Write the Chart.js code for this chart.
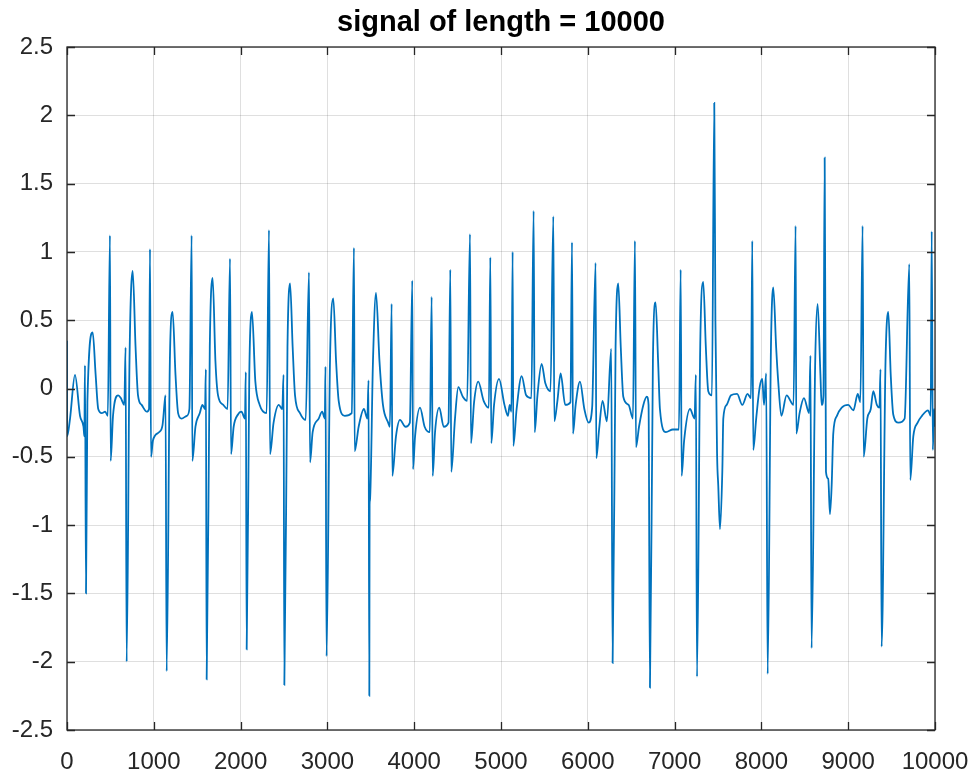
<!DOCTYPE html>
<html>
<head>
<meta charset="utf-8">
<script src="https://cdn.jsdelivr.net/npm/chart.js@4.4.0/dist/chart.umd.min.js"></script>
<style>
  html, body { margin: 0; padding: 0; background: #fff; }
  #wrap { width: 974px; height: 774px; position: relative; }
</style>
</head>
<body>
<div id="wrap"><canvas id="signalCanvas"></canvas></div>
<script>
// sample index / amplitude at the turning points
const sampleIdx = [
  0, 2, 35, 92, 150, 190, 200, 207, 219, 235, 296, 330, 360, 400, 440, 470, 495, 503, 530, 590,
  620, 660, 675, 687, 720, 757, 790, 818, 860, 920, 945, 956, 968, 990, 1060, 1100, 1125, 1135, 1148, 1185,
  1217, 1250, 1280, 1320, 1380, 1410, 1436, 1444, 1480, 1530, 1560, 1590, 1600, 1609, 1645, 1678, 1710, 1740, 1800, 1850,
  1878, 1890, 1920, 1970, 2010, 2050, 2060, 2070, 2100, 2131, 2170, 2220, 2300, 2327, 2339, 2380, 2440, 2480, 2495, 2504,
  2540, 2570, 2600, 2627, 2684, 2750, 2788, 2800, 2830, 2900, 2940, 2970, 2978, 2990, 3030, 3068, 3100, 3130, 3200, 3280,
  3306, 3314, 3360, 3420, 3460, 3474, 3483, 3486, 3490, 3525, 3560, 3600, 3640, 3700, 3720, 3740, 3748, 3790, 3836, 3900,
  3950, 3978, 3986, 4010, 4067, 4120, 4180, 4201, 4213, 4240, 4289, 4340, 4395, 4416, 4427, 4470, 4508, 4560, 4610, 4643,
  4654, 4690, 4738, 4800, 4860, 4877, 4888, 4920, 4977, 5040, 5080, 5100, 5120, 5134, 5142, 5180, 5238, 5290, 5350, 5376,
  5388, 5420, 5468, 5510, 5570, 5603, 5614, 5650, 5687, 5740, 5800, 5818, 5829, 5860, 5910, 5960, 6010, 6050, 6090, 6098,
  6130, 6170, 6220, 6270, 6286, 6320, 6351, 6380, 6409, 6470, 6520, 6543, 6555, 6590, 6640, 6680, 6700, 6716, 6750, 6781,
  6810, 6831, 6900, 6980, 7050, 7070, 7081, 7110, 7177, 7230, 7245, 7258, 7295, 7330, 7360, 7388, 7430, 7457, 7470, 7490,
  7503, 7523, 7550, 7561, 7600, 7650, 7720, 7780, 7840, 7880, 7895, 7906, 7940, 7980, 8010, 8030, 8055, 8072, 8110, 8137,
  8170, 8195, 8230, 8290, 8370, 8394, 8402, 8440, 8490, 8550, 8565, 8578, 8620, 8648, 8680, 8694, 8715, 8729, 8744, 8770,
  8790, 8810, 8828, 8870, 8925, 9000, 9060, 9110, 9140, 9166, 9178, 9220, 9260, 9289, 9330, 9360, 9372, 9385, 9430, 9462,
  9490, 9519, 9580, 9650, 9704, 9715, 9750, 9800, 9850, 9920, 9950, 9962, 9975, 9990, 10000,
]
const amplitude = [
  0.35, -0.35, -0.22, 0.1, -0.2, -0.28, -0.35, 0.17, -1.5, -0.1, 0.41, 0.1, -0.15, -0.18, -0.17, -0.2, 1.12, -0.53, -0.2, -0.05,
  -0.07, -0.12, 0.3, -2.0, 0.2, 0.86, 0.3, -0.05, -0.12, -0.17, -0.15, 1.02, -0.5, -0.38, -0.32, -0.27, -0.1, -0.05, -2.07, 0.2,
  0.56, 0.1, -0.18, -0.22, -0.2, -0.15, 1.12, -0.53, -0.28, -0.18, -0.12, -0.15, 0.14, -2.13, 0.3, 0.81, 0.2, -0.05, -0.12, -0.15,
  0.95, -0.48, -0.28, -0.19, -0.17, -0.22, 0.12, -1.91, 0.1, 0.56, 0.05, -0.12, -0.18, 1.16, -0.48, -0.25, -0.12, -0.15, 0.1, -2.17,
  0.3, 0.77, 0.3, -0.05, -0.18, -0.23, 0.85, -0.54, -0.32, -0.22, -0.17, -0.22, 0.16, -1.96, 0.2, 0.66, 0.2, -0.09, -0.2, -0.18,
  1.03, -0.46, -0.28, -0.15, -0.22, 0.06, -2.25, -0.85, -0.82, 0.2, 0.7, 0.2, -0.12, -0.25, -0.28, 0.62, -0.64, -0.35, -0.23, -0.28,
  -0.25, 0.79, -0.59, -0.35, -0.14, -0.28, -0.32, 0.67, -0.64, -0.32, -0.14, -0.28, -0.25, 0.87, -0.61, -0.22, 0.01, -0.06, -0.09, 1.13,
  -0.4, -0.1, 0.05, -0.09, -0.14, 0.96, -0.4, -0.12, 0.07, -0.12, -0.2, -0.12, -0.17, 1.0, -0.42, -0.15, 0.09, -0.05, -0.07, 1.3,
  -0.32, -0.05, 0.18, 0.04, -0.02, 1.26, -0.24, -0.09, 0.11, -0.12, -0.1, 1.07, -0.33, -0.12, 0.05, -0.15, -0.25, -0.14, 0.92, -0.51,
  -0.3, -0.09, -0.24, 0.29, -2.01, 0.3, 0.77, 0.3, -0.06, -0.12, -0.22, 1.08, -0.43, -0.28, -0.12, -0.06, -0.12, -2.19, 0.2, 0.63,
  0.2, -0.15, -0.32, -0.3, -0.3, 0.87, -0.64, -0.38, -0.15, -0.22, 0.1, -2.11, 0.3, 0.78, 0.3, -0.02, -0.05, 2.09, 0.5, -0.5,
  -0.71, -1.03, -0.6, -0.22, -0.12, -0.05, -0.04, -0.12, -0.04, -0.07, 1.08, -0.45, -0.22, 0.01, 0.07, -0.12, 0.11, -2.09, 0.3, 0.74,
  0.3, 0.04, -0.2, -0.05, -0.12, 1.19, -0.33, -0.18, -0.07, -0.18, 0.24, -1.9, 0.2, 0.62, 0.1, -0.12, -0.05, 1.69, -0.61, -0.66,
  -0.92, -0.7, -0.33, -0.2, -0.14, -0.12, -0.16, -0.04, -0.1, 1.19, -0.5, -0.22, -0.15, -0.02, -0.12, -0.14, 0.14, -1.89, 0.2, 0.56,
  0.1, -0.19, -0.25, -0.22, 0.91, -0.67, -0.35, -0.25, -0.2, -0.16, -0.2, 1.15, -0.45, -0.15, -0.28,
]
const xTicks = [0, 1000, 2000, 3000, 4000, 5000, 6000, 7000, 8000, 9000, 10000]
const yTicks = [-2.5, -2, -1.5, -1, -0.5, 0, 0.5, 1, 1.5, 2, 2.5]
const title = `signal of length = 10000`

const axisColor = `#262626`
const font = `"Liberation Sans", Helvetica, Arial, sans-serif`

// MATLAB style: box all round, ticks pointing inward, title over the axes
const matlabBox = {
  id: `matlabBox`,
  afterDraw(chart) {
    const { ctx, chartArea: a, scales } = chart
    const len = 8
    ctx.save()
    ctx.strokeStyle = axisColor
    ctx.lineWidth = 1.3
    ctx.strokeRect(a.left, a.top, a.right - a.left, a.bottom - a.top)
    ctx.beginPath()
    for (const v of xTicks) {
      const px = Math.round(scales.x.getPixelForValue(v)) + 0.5
      ctx.moveTo(px, a.bottom); ctx.lineTo(px, a.bottom - len)
      ctx.moveTo(px, a.top); ctx.lineTo(px, a.top + len)
    }
    for (const v of yTicks) {
      const py = Math.round(scales.y.getPixelForValue(v)) + 0.5
      ctx.moveTo(a.left, py); ctx.lineTo(a.left + len, py)
      ctx.moveTo(a.right, py); ctx.lineTo(a.right - len, py)
    }
    ctx.stroke()
    ctx.fillStyle = `#000`
    ctx.font = `bold 29px ${font}`
    ctx.textAlign = `center`
    ctx.textBaseline = `alphabetic`
    ctx.fillText(title, (a.left + a.right) / 2, 31)
    ctx.restore()
  },
}

const data = {
  datasets: [
    {
      label: `signal`,
      data: sampleIdx.map((x, i) => ({ x, y: amplitude[i] })),
      borderColor: `#0072BD`,
      borderWidth: 1.8,
      pointRadius: 0,
      cubicInterpolationMode: `monotone`,
    },
  ],
}

const tickFont = { family: font, size: 24 }
const gridColor = `rgba(38,38,38,0.15)`
const plain = (v) => String(v)

new Chart(document.querySelector(`#signalCanvas`), {
  type: `line`,
  data,
  options: {
    responsive: true,
    maintainAspectRatio: false,
    animation: false,
    layout: { padding: { left: 0, right: 39, top: 47, bottom: 0 } },
    scales: {
      x: {
        type: `linear`,
        min: 0,
        max: 10000,
        afterBuildTicks: (s) => { s.ticks = xTicks.map((value) => ({ value })) },
        afterFit: (s) => { s.height = 44; s.paddingLeft = 0; s.paddingRight = 0 },
        ticks: { font: tickFont, color: axisColor, padding: 18, maxRotation: 0, autoSkip: false, callback: plain },
        grid: { color: gridColor, drawTicks: false },
        border: { display: false },
      },
      y: {
        min: -2.5,
        max: 2.5,
        afterBuildTicks: (s) => { s.ticks = yTicks.map((value) => ({ value })) },
        afterFit: (s) => { s.width = 67; s.paddingTop = 0; s.paddingBottom = 0 },
        ticks: { font: tickFont, color: axisColor, padding: 14, autoSkip: false, callback: plain },
        grid: { color: gridColor, drawTicks: false },
        border: { display: false },
      },
    },
    plugins: {
      legend: { display: false },
      title: { display: false },
      tooltip: { enabled: false },
    },
  },
  plugins: [matlabBox],
})
</script>
</body>
</html>
